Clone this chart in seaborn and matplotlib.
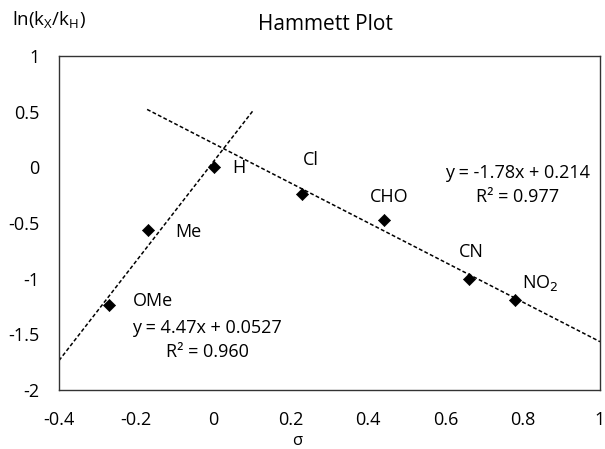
import matplotlib
matplotlib.use("Agg")
import matplotlib.pyplot as plt
import seaborn as sns
import numpy as np
import pandas as pd

# ---- data ----
substituents = ["OMe", "Me", "H", "Cl", "CHO", "CN", "NO$_2$"]
sigma = [-0.27, -0.17, 0.0, 0.23, 0.44, 0.66, 0.78]
ln_ratio = [-1.24, -0.56, 0.0, -0.24, -0.47, -1.0, -1.19]

left_slope, left_icpt = 4.47, 0.0527
left_range = [-0.4, 0.103]
right_slope, right_icpt = -1.78, 0.214
right_range = [-0.172, 1.0]

left_eq = "y = 4.47x + 0.0527\nR² = 0.960"
right_eq = "y = -1.78x + 0.214\nR² = 0.977"

xticks = [-0.4, -0.2, 0, 0.2, 0.4, 0.6, 0.8, 1]
yticks = [-2, -1.5, -1, -0.5, 0, 0.5, 1]

df = pd.DataFrame({"sigma": sigma, "ln": ln_ratio, "sub": substituents})

sns.set_theme(style="white")
plt.rcParams["font.family"] = ["Open Sans", "DejaVu Sans"]

FS = 13
fig = plt.figure(figsize=(6.05, 4.49), dpi=100)
ax = fig.add_axes([59/605, 1 - 390/449, 541/605, 334/449])

# trendlines
lx = np.array(left_range)
rx = np.array(right_range)
ax.plot(lx, left_slope * lx + left_icpt, ls=(0, (2.5, 1.5)), color="black", lw=1.1)
ax.plot(rx, right_slope * rx + right_icpt, ls=(0, (2.5, 1.5)), color="black", lw=1.1)

sns.scatterplot(data=df, x="sigma", y="ln", marker="D", color="black",
                s=38, edgecolor="black", ax=ax, zorder=3)

offsets = {"OMe": (24, 4), "Me": (27, -2), "H": (19, -1), "Cl": (0, 34),
           "CHO": (-14, 23), "CN": (-10, 27), "NO$_2$": (7, 17)}
for xs, ys, lab in zip(sigma, ln_ratio, substituents):
    ax.annotate(lab, (xs, ys), xytext=offsets[lab], textcoords="offset pixels",
                ha="left", va="center", fontsize=FS, color="black")

fig.text(207/605, 1 - 340/449, left_eq, ha="center", va="center",
         fontsize=FS, linespacing=1.45, multialignment="center", color="black")
fig.text(518/605, 1 - 185/449, right_eq, ha="center", va="center",
         fontsize=FS, linespacing=1.45, multialignment="center", color="black")

ax.set_xlim(-0.4, 1)
ax.set_ylim(-2, 1)
ax.set_xticks(xticks)
ax.set_xticklabels(["-0.4", "-0.2", "0", "0.2", "0.4", "0.6", "0.8", "1"])
ax.set_yticks(yticks)
ax.set_yticklabels(["-2", "-1.5", "-1", "-0.5", "0", "0.5", "1"])
ax.tick_params(axis="x", length=0, pad=15, labelsize=FS, colors="black")
ax.tick_params(axis="y", direction="in", length=4, width=0.8, pad=14,
               labelsize=FS, colors="black")
for sp in ax.spines.values():
    sp.set_color("#333333")
    sp.set_linewidth(1.0)
ax.set_xlabel("")
ax.set_ylabel("")

fig.text(325/605, 1 - 24/449, "Hammett Plot", ha="center", va="center", fontsize=15,
         color="black")
fig.text(12/605, 1 - 20/449, "ln(k$_\\mathregular{X}$/k$_\\mathregular{H}$)", ha="left",
         va="center", fontsize=13.5, color="black")
fig.text(297/605, 0.0, "σ", ha="center", va="bottom", fontsize=12, color="black")

fig.savefig("out.png", dpi=100)
